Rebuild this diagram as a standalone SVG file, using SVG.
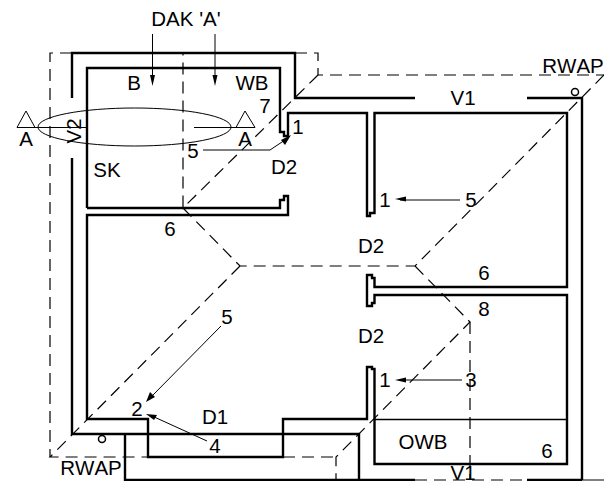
<svg xmlns="http://www.w3.org/2000/svg" width="604" height="481" viewBox="0 0 604 481">
<style>
.w{fill:none;stroke:#000;stroke-width:2.4}
.t{fill:none;stroke:#000;stroke-width:1}
.d{fill:none;stroke:#000;stroke-width:1.2;stroke-dasharray:12 7}
.a{fill:#000}
text{font-family:"Liberation Sans",Arial,sans-serif;font-size:20.5px;font-kerning:none;fill:#000;text-anchor:middle}
</style>
<rect width="604" height="481" fill="#fff"/>
<g id="dashed">
<path class="d" d="M72 53H50V457"/>
<path class="d" d="M295 53H318V75H604"/>
<path class="d" d="M318 75L183 208V53"/>
<path class="d" d="M183 208L240 266H415L604 75"/>
<path class="d" d="M415 266L470 322L336 457V480"/>
<path class="d" d="M240 266L50 457H148"/>
<path class="d" d="M283 457H336"/>
<path class="d" d="M470 322V480"/>
<path class="d" d="M415 480H527"/>
</g>
<g id="walls">
<path class="w" d="M72 98V53H295V98H415"/>
<path class="w" d="M527 98H582V480"/>
<path class="w" d="M72 158V434H359V480H125V434"/>
<path class="w" d="M359 480H415"/>
<path class="w" d="M527 480H582"/>
<path class="w" d="M87 208V68H280V132H284V136H288V113H367V216H370V213H374.500V113H567V287H374.500V278H372V275H367V306H372V303H374.500V295H567V464H374.500V369H372V367H367V419H283V457H148V419H87V215H288V196H284V200H280V208H87"/>
<path class="t" style="stroke-width:1.500" d="M374 419.500H567"/>
<path class="t" d="M336 480H359M582 480H604"/>
</g>
<g id="pipes"><circle class="t" style="stroke-width:1.500" cx="575" cy="92" r="3.500"/><circle class="t" style="stroke-width:1.500" cx="102" cy="439" r="3.500"/></g>
<g id="section">
<ellipse class="t" cx="134.500" cy="127" rx="96.500" ry="19"/>
<path class="t" d="M17 127.500H87M194 127.500H255M26 111L17 127.500H35ZM245 111L236 127.500H255Z"/>
</g>
<g id="connectors">
<path class="t" d="M152.500 34V80M215 34V80"/>
<path class="a" d="M152.500 86L150 75H155ZM215 86L212.500 75H217.500Z"/>
<path class="t" d="M203 150H270L285 140"/>
<path class="a" d="M291 135L281 140L285 145Z"/>
<path class="t" d="M460 200H400"/>
<path class="a" d="M395 199L406 196.500V201.500Z"/>
<path class="t" d="M462 380H400"/>
<path class="a" d="M395 380L406 377.500V382.500Z"/>
<path class="t" d="M221 326L152 396"/>
<path class="a" d="M146 402L150 392L155 397Z"/>
<path class="t" d="M207 441L152 416"/>
<path class="a" d="M146 414L157 415L154 420Z"/>
</g>
<g id="labels">
<text x="186" y="26">DAK 'A'</text>
<text x="134" y="90">B</text>
<text x="252" y="90">WB</text>
<text x="265" y="113">7</text>
<text x="298" y="134">1</text>
<text x="193" y="158">5</text>
<text x="284" y="174">D2</text>
<text x="107" y="177">SK</text>
<text x="26" y="146">A</text>
<text x="245" y="146">A</text>
<text transform="translate(81 131) rotate(-90)">V2</text>
<text x="170" y="236">6</text>
<text x="385" y="207">1</text>
<text x="471" y="207">5</text>
<text x="371" y="253">D2</text>
<text x="484" y="280">6</text>
<text x="484" y="316">8</text>
<text x="371" y="343">D2</text>
<text x="385" y="387">1</text>
<text x="471" y="387">3</text>
<text x="227" y="324">5</text>
<text x="137" y="416">2</text>
<text x="215" y="424">D1</text>
<text x="215" y="453">4</text>
<text x="423" y="449">OWB</text>
<text x="547" y="458">6</text>
<text x="463" y="105">V1</text>
<text x="573" y="73">RWAP</text>
<text x="91" y="475">RWAP</text>
<text x="463" y="480">V1</text>
</g>
</svg>
